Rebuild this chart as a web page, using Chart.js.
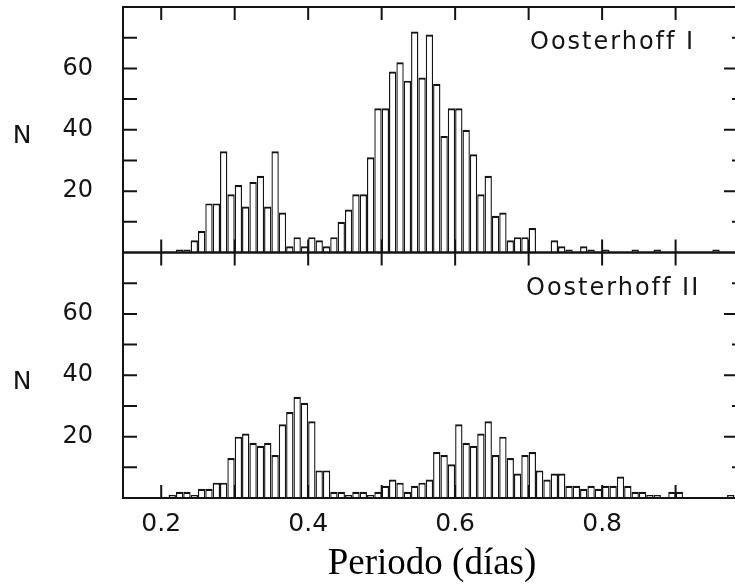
<!DOCTYPE html>
<html>
<head>
<meta charset="utf-8">
<script src="https://cdn.jsdelivr.net/npm/chart.js@4.4.1/dist/chart.umd.min.js"></script>
<style>
  html, body { margin: 0; padding: 0; background: #fff; overflow: hidden; }
  canvas { display: block; }
</style>
</head>
<body>
<canvas id="periodHist" width="745" height="585"></canvas>
<script>
// period bins (left edge, days), 0.01 wide
const binWidth = 0.01;
const binStart = [
  0.20, 0.21, 0.22, 0.23, 0.24, 0.25, 0.26, 0.27, 0.28, 0.29,
  0.30, 0.31, 0.32, 0.33, 0.34, 0.35, 0.36, 0.37, 0.38, 0.39,
  0.40, 0.41, 0.42, 0.43, 0.44, 0.45, 0.46, 0.47, 0.48, 0.49,
  0.50, 0.51, 0.52, 0.53, 0.54, 0.55, 0.56, 0.57, 0.58, 0.59,
  0.60, 0.61, 0.62, 0.63, 0.64, 0.65, 0.66, 0.67, 0.68, 0.69,
  0.70, 0.71, 0.72, 0.73, 0.74, 0.75, 0.76, 0.77, 0.78, 0.79,
  0.80, 0.81, 0.82, 0.83, 0.84, 0.85, 0.86, 0.87, 0.88, 0.89,
  0.90, 0.91, 0.92, 0.93, 0.94, 0.95, 0.96, 0.97
];

// star counts per bin
const oosterhoffI = [
  0, 0, 1, 1, 4, 7, 16, 16, 33, 19,
  22, 15, 23, 25, 15, 33, 13, 2, 5, 2,
  5, 4, 2, 5, 10, 14, 19, 19, 31, 47,
  47, 59, 62, 56, 72, 57, 71, 55, 38, 47,
  47, 40, 32, 19, 25, 12, 13, 4, 5, 5,
  8, 0, 0, 4, 2, 1, 0, 2, 1, 0,
  1, 0, 0, 0, 1, 0, 0, 1, 0, 0,
  0, 0, 0, 0, 0, 1, 0, 0
];
const oosterhoffII = [
  0, 1, 2, 2, 1, 3, 3, 5, 5, 13,
  20, 21, 18, 17, 18, 14, 24, 28, 33, 31,
  25, 9, 9, 2, 2, 1, 2, 2, 1, 2,
  4, 6, 5, 2, 4, 5, 6, 15, 14, 11,
  24, 18, 17, 21, 25, 14, 20, 13, 8, 14,
  15, 9, 6, 8, 8, 4, 4, 3, 4, 3,
  4, 4, 7, 4, 2, 2, 1, 1, 0, 2,
  2, 0, 0, 0, 0, 0, 0, 1
];

const panelNames = ['Oosterhoff I', 'Oosterhoff II'];
const countTicks = [10, 20, 30, 40, 50, 60, 70];
const countLabels = [20, 40, 60];
const periodTicks = [0.2, 0.3, 0.4, 0.5, 0.6, 0.7, 0.8, 0.9];
const periodLabels = [0.2, 0.4, 0.6, 0.8];

const ink = '#141414';

function toPoints(counts) {
  return binStart.map((b, i) => ({ x: b + binWidth / 2, y: counts[i] }));
}

function histDataset(counts, axis) {
  return {
    data: toPoints(counts),
    yAxisID: axis,
    grouped: false,
    barPercentage: 1,
    categoryPercentage: 1,
    backgroundColor: '#ffffff',
    borderColor: ink,
    borderWidth: { top: 2.2, left: 1.4, right: 1.4, bottom: 0 },
    inflateAmount: 0
  };
}

// no extra room for overhanging tick labels, the axes sit where they are told
function noOverhang(axis) {
  axis.paddingTop = 0;
  axis.paddingBottom = 0;
  axis.paddingLeft = 0;
  axis.paddingRight = 0;
}

// frame, inward ticks and panel captions
const framePlugin = {
  id: 'framePlugin',
  beforeDatasetsDraw(chart) {
    const ctx = chart.ctx;
    const x = chart.scales.x;
    const { left, right } = chart.chartArea;
    ctx.save();
    ctx.strokeStyle = ink;
    ctx.lineWidth = 2;
    ctx.beginPath();
    for (const id of ['yTop', 'yBot']) {
      const s = chart.scales[id];
      countTicks.forEach(v => {
        const py = s.getPixelForValue(v);
        ctx.moveTo(left, py);
        ctx.lineTo(left + 14, py);
        const len = countLabels.includes(v) ? 17 : 9;
        ctx.moveTo(right - len, py);
        ctx.lineTo(right, py);
      });
      periodTicks.forEach(v => {
        const px = x.getPixelForValue(v);
        ctx.moveTo(px, s.top);
        ctx.lineTo(px, s.top + 13);
        ctx.moveTo(px, s.bottom);
        ctx.lineTo(px, s.bottom - 13);
      });
    }
    ctx.stroke();
    ctx.restore();
  },
  afterDatasetsDraw(chart) {
    const ctx = chart.ctx;
    const { left, right } = chart.chartArea;
    ctx.save();
    ctx.strokeStyle = ink;
    ctx.lineWidth = 2;
    for (const id of ['yTop', 'yBot']) {
      const s = chart.scales[id];
      ctx.strokeRect(left, s.top, right - left, s.bottom - s.top);
    }
    ctx.restore();
  },
  afterDraw(chart) {
    const ctx = chart.ctx;
    ctx.save();
    ctx.fillStyle = ink;
    ctx.textBaseline = 'middle';
    ['yTop', 'yBot'].forEach((id, i) => {
      const s = chart.scales[id];
      ctx.font = '25px "DejaVu Sans"';
      ctx.textAlign = 'center';
      ctx.fillText('N', 22, s.getPixelForValue(40) + 7);
      ctx.font = '24px "DejaVu Sans"';
      ctx.textAlign = 'left';
      ctx.letterSpacing = '2px';
      ctx.fillText(panelNames[i], i === 0 ? 530 : 526, s.top + 36);
      ctx.letterSpacing = '0px';
    });
    ctx.restore();
  }
};

function countAxis(weight) {
  return {
    type: 'linear',
    position: 'left',
    stack: 'panels',
    stackWeight: 1,
    weight: weight,
    min: 0,
    max: 80,
    grid: { display: false },
    border: { display: false },
    afterBuildTicks: axis => { axis.ticks = countLabels.map(v => ({ value: v })); },
    afterFit: axis => { axis.width = 123; noOverhang(axis); },
    ticks: {
      padding: 22,
      color: ink,
      font: { family: 'DejaVu Sans', size: 24 }
    }
  };
}

const ctx = document.getElementById('periodHist').getContext('2d');
const periodHist = new Chart(ctx, {
  type: 'bar',
  data: {
    datasets: [
      histDataset(oosterhoffI, 'yTop'),
      histDataset(oosterhoffII, 'yBot')
    ]
  },
  options: {
    responsive: false,
    animation: false,
    layout: { padding: { top: 7, right: 4, left: 0, bottom: 0 } },
    plugins: {
      legend: { display: false },
      tooltip: { enabled: false }
    },
    scales: {
      x: {
        type: 'linear',
        offset: false,
        min: 0.148,
        max: 0.989,
        grid: { display: false, offset: false },
        border: { display: false },
        afterBuildTicks: axis => { axis.ticks = periodLabels.map(v => ({ value: v })); },
        afterFit: axis => { axis.height = 87; noOverhang(axis); },
        ticks: {
          padding: 3,
          color: ink,
          font: { family: 'DejaVu Sans', size: 25 },
          callback: v => v.toFixed(1)
        },
        title: {
          display: true,
          text: 'Periodo (días)',
          color: '#000',
          padding: { top: 0, bottom: 0 },
          font: { family: 'Liberation Serif', size: 37, lineHeight: 1.1 }
        }
      },
      yBot: countAxis(1),
      yTop: countAxis(2)
    }
  },
  plugins: [framePlugin]
});
</script>
</body>
</html>
